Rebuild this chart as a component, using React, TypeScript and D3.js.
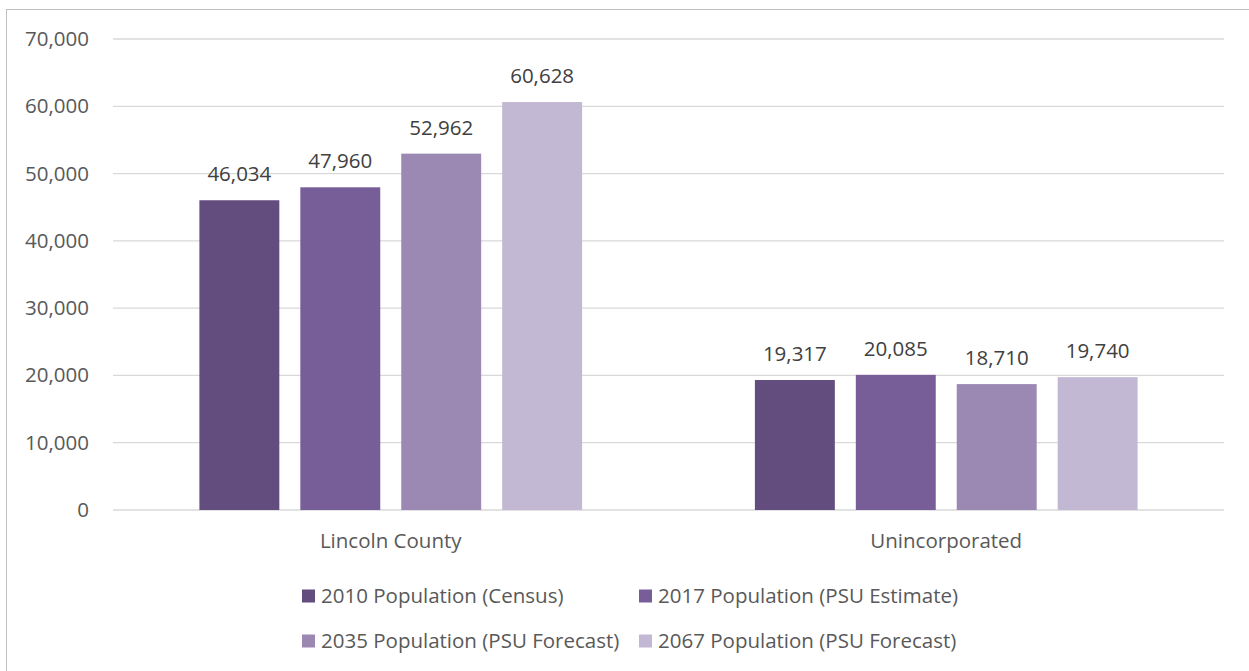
import React from "react";
import * as d3 from "d3";

const categories = ["Lincoln County", "Unincorporated"];
const seriesNames = [
  "2010 Population (Census)",
  "2017 Population (PSU Estimate)",
  "2035 Population (PSU Forecast)",
  "2067 Population (PSU Forecast)",
];
const pop2010 = [46034, 19317];
const pop2017 = [47960, 20085];
const pop2035 = [52962, 18710];
const pop2067 = [60628, 19740];
const seriesValues = [pop2010, pop2017, pop2035, pop2067];
const yTicks = [0, 10000, 20000, 30000, 40000, 50000, 60000, 70000];
const colors = ["#634C7E", "#775E98", "#9C89B3", "#C3B8D3"];

const W = 1249;
const H = 671;
const FONT = "'Open Sans', sans-serif";
const TEXT = "#595959";
const FS = 20.5;

export default function App() {
  const x0 = d3.scaleBand<string>().domain(categories).range([113, 1224]).paddingInner(0).paddingOuter(0);
  const x1 = d3
    .scaleBand<string>()
    .domain(seriesNames)
    .range([0, x0.bandwidth()])
    .paddingInner(0.208)
    .paddingOuter(0.856);
  const y = d3.scaleLinear().domain([0, 70000]).range([510, 39]);
  const fmt = d3.format(",");

  const legendPos = [
    { x: 302, y: 596 },
    { x: 639, y: 596 },
    { x: 302, y: 641 },
    { x: 639, y: 641 },
  ];

  return (
    <svg
      width={W}
      height={H}
      style={{ position: "absolute", left: 0, top: 0, background: "#fff" }}
      fontFamily={FONT}
    >
      <rect x={0} y={0} width={W} height={H} fill="#fff" />
      <rect x={6.5} y={9.5} width={1300} height={720} fill="none" stroke="#BFBFBF" strokeWidth={1} />
      {yTicks.map((t) => (
        <g key={t}>
          <line x1={113} x2={1224} y1={y(t)} y2={y(t)} stroke="#D9D9D9" strokeWidth={1.3} />
          <text x={89} y={y(t) + 7} textAnchor="end" fontSize={FS} fill={TEXT}>
            {fmt(t)}
          </text>
        </g>
      ))}
      {categories.map((c, ci) => (
        <g key={c} transform={`translate(${x0(c)},0)`}>
          {seriesNames.map((s, si) => {
            const v = seriesValues[si][ci];
            const bx = x1(s)!;
            return (
              <g key={s}>
                <rect x={bx} y={y(v)} width={x1.bandwidth()} height={y(0) - y(v)} fill={colors[si]} />
                <text
                  x={bx + x1.bandwidth() / 2}
                  y={y(v) - 19}
                  textAnchor="middle"
                  fontSize={FS}
                  fill="#404040"
                >
                  {fmt(v)}
                </text>
              </g>
            );
          })}
          <text x={x0.bandwidth() / 2} y={548} textAnchor="middle" fontSize={FS} fill={TEXT}>
            {c}
          </text>
        </g>
      ))}
      {seriesNames.map((s, i) => (
        <g key={s}>
          <rect x={legendPos[i].x} y={legendPos[i].y - 6.5} width={13} height={13} fill={colors[i]} />
          <text x={legendPos[i].x + 19} y={legendPos[i].y + 6.5} fontSize={FS} fill={TEXT}>
            {s}
          </text>
        </g>
      ))}
    </svg>
  );
}
